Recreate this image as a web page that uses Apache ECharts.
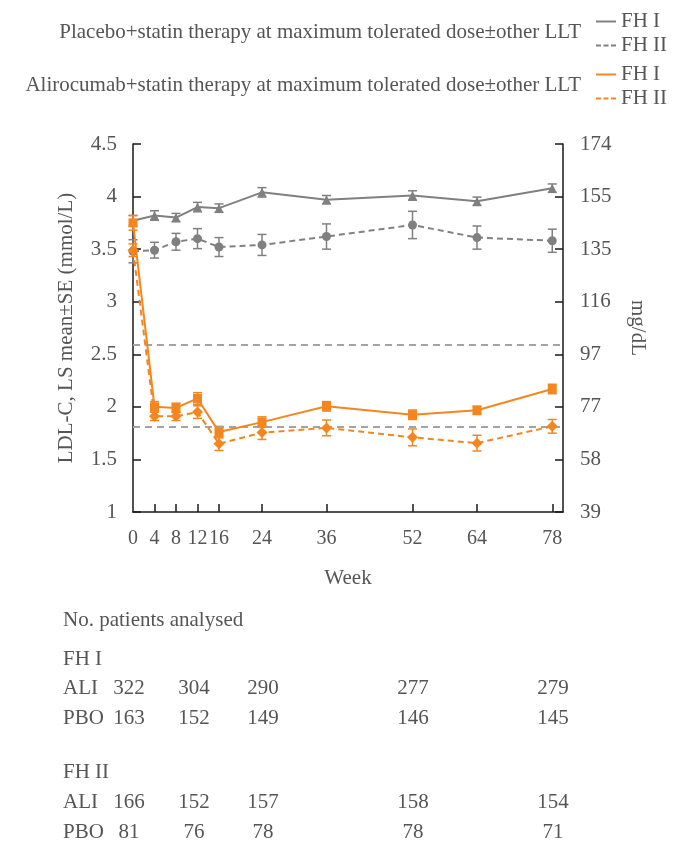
<!DOCTYPE html>
<html>
<head>
<meta charset="utf-8">
<script src="https://cdn.jsdelivr.net/npm/echarts@6/dist/echarts.min.js"></script>
<style>
  html, body { margin: 0; padding: 0; background: #fff; }
  #chart { width: 691px; height: 851px; }
</style>
</head>
<body>
<div id="chart"></div>
<script>
// weeks of measurement
var weeks = [0, 4, 8, 12, 16, 24, 36, 52, 64, 78];
var weekTicks = [4, 8, 12, 16, 24, 36, 52, 64, 78];

// LS mean and SE, mmol/L
var pboFH1 = [3.77, 3.82, 3.80, 3.90, 3.89, 4.04, 3.97, 4.01, 3.955, 4.08];
var pboFH1Se = [0.05, 0.045, 0.04, 0.045, 0.04, 0.045, 0.04, 0.045, 0.04, 0.04];
var pboFH2 = [3.48, 3.49, 3.57, 3.60, 3.52, 3.54, 3.62, 3.73, 3.61, 3.58];
var pboFH2Se = [0.11, 0.075, 0.08, 0.095, 0.09, 0.10, 0.12, 0.13, 0.11, 0.11];
var aliFH1 = [3.75, 2.00, 1.99, 2.08, 1.76, 1.855, 2.005, 1.925, 1.967, 2.17];
var aliFH1Se = [0.07, 0.05, 0.045, 0.055, 0.055, 0.05, 0.045, 0.045, 0.04, 0.045];
var aliFH2 = [3.49, 1.91, 1.91, 1.95, 1.65, 1.755, 1.80, 1.71, 1.655, 1.815];
var aliFH2Se = [0.06, 0.04, 0.04, 0.06, 0.065, 0.065, 0.075, 0.08, 0.075, 0.065];

// target lines (100 and 70 mg/dL)
var targetLines = [2.59, 1.81];

// right axis labels in mg/dL
var mgTicks = [39, 58, 77, 97, 116, 135, 155, 174];

// patient counts table
var tableCols = [129, 194, 263, 413, 553];
var fh1Ali = [322, 304, 290, 277, 279];
var fh1Pbo = [163, 152, 149, 146, 145];
var fh2Ali = [166, 152, 157, 158, 154];
var fh2Pbo = [81, 76, 78, 78, 71];

var GRAY = '#808083';
var ORANGE = '#F5861F';
var TEXT = '#555555';
var FONT = 'Liberation Serif';
var FS = 21;

function pairs(ys) {
    return weeks.map(function (w, i) { return [w, ys[i]]; });
}
function errs(ys, se) {
    return weeks.map(function (w, i) { return [w, ys[i] - se[i], ys[i] + se[i]]; });
}

function renderErr(params, api) {
    var lo = api.coord([api.value(0), api.value(1)]);
    var hi = api.coord([api.value(0), api.value(2)]);
    var w = 4.5;
    var st = { stroke: api.visual('color'), lineWidth: 1.5 };
    return {
        type: 'group',
        children: [
            { type: 'line', shape: { x1: lo[0], y1: lo[1], x2: hi[0], y2: hi[1] }, style: st },
            { type: 'line', shape: { x1: lo[0] - w, y1: lo[1], x2: lo[0] + w, y2: lo[1] }, style: st },
            { type: 'line', shape: { x1: hi[0] - w, y1: hi[1], x2: hi[0] + w, y2: hi[1] }, style: st }
        ]
    };
}

function lineSeries(name, ys, color, dashed, symbol, size, z) {
    return {
        name: name,
        type: 'line',
        data: pairs(ys),
        symbol: symbol,
        symbolSize: size,
        color: color,
        itemStyle: { color: color },
        lineStyle: { color: color, width: 2, type: dashed ? [6, 4] : 'solid' },
        z: z,
        animation: false
    };
}

function errSeries(ys, se, color, z) {
    return {
        type: 'custom',
        renderItem: renderErr,
        data: errs(ys, se),
        itemStyle: { color: color },
        encode: { x: 0, y: [1, 2] },
        z: z,
        animation: false,
        silent: true
    };
}

var solidIcon = 'path://M0,0H20V2H0Z';
var dashIcon = 'path://M0,0H5V2H0Z M7.5,0H12.5V2H7.5Z M15,0H20V2H15Z';

var tableText = [];
function addText(text, x, y, align) {
    tableText.push({
        type: 'text',
        x: x, y: y,
        style: {
            text: String(text), align: align || 'center', verticalAlign: 'middle',
            fill: TEXT, fontSize: FS, fontFamily: FONT
        }
    });
}
function addRow(label, vals, y) {
    addText(label, 63, y, 'left');
    vals.forEach(function (v, i) { addText(v, tableCols[i], y); });
}
addText('No. patients analysed', 63, 620, 'left');
addText('FH I', 63, 659, 'left');
addRow('ALI', fh1Ali, 688);
addRow('PBO', fh1Pbo, 718);
addText('FH II', 63, 772, 'left');
addRow('ALI', fh2Ali, 802);
addRow('PBO', fh2Pbo, 832);

var axisLineStyle = { color: '#1a1a1a', width: 1.5 };

var option = {
    backgroundColor: '#fff',
    animation: false,
    textStyle: { fontFamily: FONT, color: TEXT },
    title: [
        {
            text: 'Placebo+statin therapy at maximum tolerated dose\u00b1other LLT',
            right: 110, top: 22, padding: 0,
            textStyle: { fontSize: FS, fontWeight: 'normal', color: TEXT, fontFamily: FONT }
        },
        {
            text: 'Alirocumab+statin therapy at maximum tolerated dose\u00b1other LLT',
            right: 110, top: 75, padding: 0,
            textStyle: { fontSize: FS, fontWeight: 'normal', color: TEXT, fontFamily: FONT }
        }
    ],
    legend: [
        {
            orient: 'vertical', left: 596, top: 11, padding: 0, itemGap: 3,
            itemWidth: 20, itemHeight: 2,
            data: [{ name: 'Placebo FH I', icon: solidIcon }, { name: 'Placebo FH II', icon: dashIcon }],
            formatter: function (n) { return n.replace('Placebo ', ''); },
            textStyle: { fontSize: FS, color: TEXT, fontFamily: FONT, lineHeight: 20 }
        },
        {
            orient: 'vertical', left: 596, top: 64, padding: 0, itemGap: 3,
            itemWidth: 20, itemHeight: 2,
            data: [{ name: 'Alirocumab FH I', icon: solidIcon }, { name: 'Alirocumab FH II', icon: dashIcon }],
            formatter: function (n) { return n.replace('Alirocumab ', ''); },
            textStyle: { fontSize: FS, color: TEXT, fontFamily: FONT, lineHeight: 20 }
        }
    ],
    grid: { left: 133, right: 128, top: 144, bottom: 339 },
    xAxis: {
        type: 'value',
        min: 0, max: 80,
        name: 'Week',
        nameLocation: 'middle',
        nameGap: 56,
        nameTextStyle: { fontSize: FS, color: TEXT },
        axisLine: { lineStyle: axisLineStyle },
        axisTick: { inside: true, length: 8, lineStyle: axisLineStyle, customValues: weekTicks },
        axisLabel: { fontSize: 20, color: TEXT, margin: 17, customValues: weeks },
        splitLine: { show: false }
    },
    yAxis: [
        {
            type: 'value',
            min: 1, max: 4.5, interval: 0.5,
            position: 'left',
            name: 'LDL-C, LS mean\u00b1SE (mmol/L)',
            nameLocation: 'middle',
            nameRotate: 90,
            nameGap: 56,
            nameTextStyle: { fontSize: FS, color: TEXT },
            axisLine: { show: true, lineStyle: axisLineStyle },
            axisTick: { show: true, inside: true, length: 8, lineStyle: axisLineStyle },
            axisLabel: { fontSize: FS, color: TEXT, margin: 16 },
            splitLine: { show: false }
        },
        {
            type: 'value',
            min: 1, max: 4.5, interval: 0.5,
            position: 'right',
            name: 'mg/dL',
            nameLocation: 'middle',
            nameRotate: -90,
            nameGap: 64,
            nameTextStyle: { fontSize: FS, color: TEXT },
            axisLine: { show: true, lineStyle: axisLineStyle },
            axisTick: { show: true, inside: true, length: 8, lineStyle: axisLineStyle },
            axisLabel: {
                fontSize: FS, color: TEXT, margin: 17,
                formatter: function (v) { return String(mgTicks[Math.round((v - 1) / 0.5)]); }
            },
            splitLine: { show: false }
        }
    ],
    series: [
        {
            type: 'line',
            data: [],
            silent: true,
            markLine: {
                silent: true,
                symbol: ['none', 'none'],
                label: { show: false },
                lineStyle: { color: '#a3a3a6', type: [7, 5], width: 2 },
                data: targetLines.map(function (v) { return { yAxis: v }; })
            },
            z: 1
        },
        errSeries(pboFH2, pboFH2Se, GRAY, 2),
        errSeries(pboFH1, pboFH1Se, GRAY, 2),
        lineSeries('Placebo FH II', pboFH2, GRAY, true, 'circle', 9, 3),
        lineSeries('Placebo FH I', pboFH1, GRAY, false, 'triangle', 9, 3),
        errSeries(aliFH2, aliFH2Se, ORANGE, 4),
        errSeries(aliFH1, aliFH1Se, ORANGE, 4),
        lineSeries('Alirocumab FH II', aliFH2, ORANGE, true, 'diamond', 11, 5),
        lineSeries('Alirocumab FH I', aliFH1, ORANGE, false, 'rect', 9, 5)
    ],
    graphic: tableText
};

var chart = echarts.init(document.getElementById('chart'));
chart.setOption(option);
</script>
</body>
</html>
